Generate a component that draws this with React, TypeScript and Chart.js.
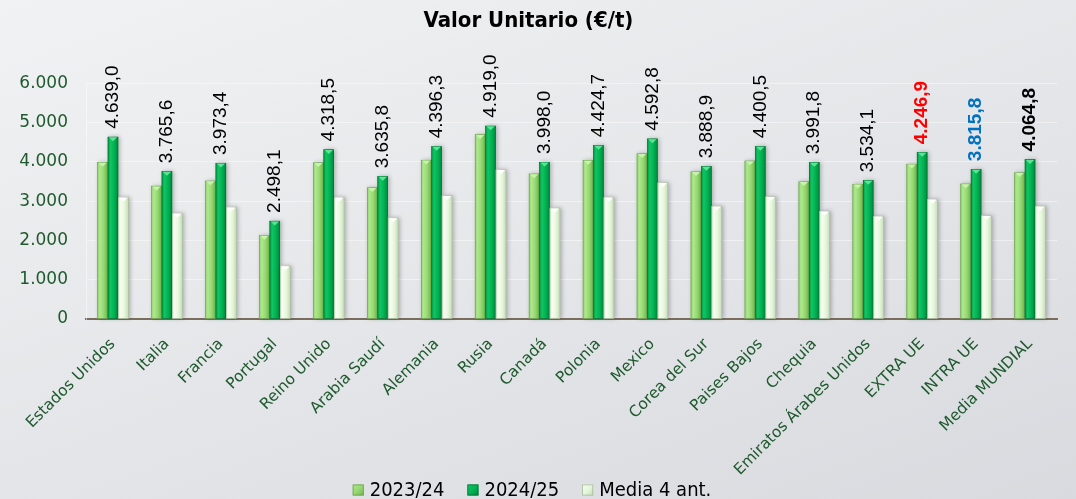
import React, { useEffect, useRef } from "react";
import { Chart, registerables } from "chart.js";

Chart.register(...registerables);

const categories = [
  "Estados Unidos", "Italia", "Francia", "Portugal", "Reino Unido", "Arabia Saudí",
  "Alemania", "Rusia", "Canadá", "Polonia", "Mexico", "Corea del Sur", "Paises Bajos",
  "Chequia", "Emiratos Árabes Unidos", "EXTRA UE", "INTRA UE", "Media MUNDIAL",
];
const seriesNames = ["2023/24", "2024/25", "Media 4 ant."];
const values2324 = [3995, 3390, 3520, 2130, 3985, 3350, 4050, 4700, 3700, 4045, 4215, 3755, 4030, 3500, 3435, 3945, 3445, 3730];
const values2425 = [4639.0, 3765.6, 3973.4, 2498.1, 4318.5, 3635.8, 4396.3, 4919.0, 3998.0, 4424.7, 4592.8, 3888.9, 4400.5, 3991.8, 3534.1, 4246.9, 3815.8, 4064.8];
const valuesMedia = [3105, 2700, 2855, 1355, 3105, 2580, 3145, 3805, 2830, 3105, 3475, 2875, 3120, 2750, 2620, 3055, 2635, 2875];
const labelColors = ["#000", "#000", "#000", "#000", "#000", "#000", "#000", "#000", "#000", "#000", "#000", "#000", "#000", "#000", "#000", "#ff0000", "#0070c0", "#000"];
const labelBold = [false, false, false, false, false, false, false, false, false, false, false, false, false, false, false, true, true, true];
const yTicks = [0, 1000, 2000, 3000, 4000, 5000, 6000];

const barStyles = [
  { mid: "#95d872", stops: ["#8fcf6c", "#aee88c", "#96d873", "#70b84b"], cap: "#c8f2ad", border: "#6a9f4e" },
  { mid: "#00b050", stops: ["#009443", "#12c462", "#00b353", "#00853b"], cap: "#5ae596", border: "#00702f" },
  { mid: "#e6f7da", stops: ["#dcefd0", "#f7fdf2", "#e6f7da", "#c5dbb9"], cap: "#ffffff", border: "#a5b99c" },
];

function fmt(v: number, dec: number): string {
  const s = v.toFixed(dec);
  const [i, d] = s.split(".");
  const ii = i.replace(/\B(?=(\d{3})+(?!\d))/g, ".");
  return d ? ii + "," + d : ii;
}

const condensed = "'Liberation Sans Narrow', 'DejaVu Sans Condensed', 'Roboto Condensed', sans-serif";

const customBars = {
  id: "customBars",
  beforeDatasetDraw() {
    return false;
  },
  afterDatasetsDraw(chart: any) {
    const ctx = chart.ctx;
    chart.data.datasets.forEach((ds: any, di: number) => {
      const meta = chart.getDatasetMeta(di);
      if (meta.hidden) return;
      const st = barStyles[di];
      meta.data.forEach((el: any) => {
        const left = el.x - el.width / 2;
        const right = el.x + el.width / 2;
        const top = el.y;
        const bottom = el.base;
        ctx.save();
        ctx.shadowColor = "rgba(0,0,0,0.28)";
        ctx.shadowBlur = 4;
        ctx.shadowOffsetX = 1.5;
        ctx.shadowOffsetY = 0;
        const g = ctx.createLinearGradient(left, 0, right, 0);
        g.addColorStop(0, st.stops[0]);
        g.addColorStop(0.25, st.stops[1]);
        g.addColorStop(0.6, st.stops[2]);
        g.addColorStop(1, st.stops[3]);
        ctx.fillStyle = g;
        ctx.fillRect(left, top, right - left, bottom - top);
        ctx.restore();
        ctx.save();
        ctx.strokeStyle = st.border;
        ctx.lineWidth = 0.6;
        ctx.strokeRect(left + 0.3, top + 0.3, right - left - 0.6, bottom - top - 0.3);
        ctx.fillStyle = st.cap;
        ctx.beginPath();
        ctx.moveTo(left + 1, top + 0.5);
        ctx.lineTo(right - 1, top + 0.5);
        ctx.lineTo(el.x, top + 4.5);
        ctx.closePath();
        ctx.fill();
        ctx.restore();
      });
    });
    // data labels on 2024/25
    const meta = chart.getDatasetMeta(1);
    meta.data.forEach((el: any, i: number) => {
      ctx.save();
      ctx.translate(el.x, el.y - 8);
      ctx.rotate(-Math.PI / 2);
      ctx.font = (labelBold[i] ? "bold " : "") + "19px 'Liberation Sans', Arial, sans-serif";
      ctx.fillStyle = labelColors[i];
      ctx.textAlign = "left";
      ctx.textBaseline = "middle";
      ctx.fillText(fmt(values2425[i], 1), 0, 0);
      ctx.restore();
    });
  },
};

const customLegend = {
  id: "customLegend",
  afterDraw(chart: any) {
    const ctx = chart.ctx;
    const box = 11;
    const gapText = 6;
    const gapItem = 23;
    const y = chart.height - 9;
    ctx.save();
    ctx.font = "20px " + condensed;
    ctx.textBaseline = "middle";
    ctx.textAlign = "left";
    const labels = chart.data.datasets.map((d: any) => d.label as string);
    const widths = labels.map((t: string) => box + gapText + ctx.measureText(t).width);
    const total = widths.reduce((a: number, b: number) => a + b, 0) + gapItem * (labels.length - 1);
    let x = chart.width / 2 - 6 - total / 2;
    labels.forEach((t: string, i: number) => {
      const st = barStyles[i];
      const bx = x;
      const by = y - box / 2;
      const g = ctx.createLinearGradient(bx, by, bx + box, by + box);
      g.addColorStop(0, st.stops[1]);
      g.addColorStop(0.5, st.stops[2]);
      g.addColorStop(1, st.stops[3]);
      ctx.fillStyle = g;
      ctx.fillRect(bx, by, box, box);
      ctx.strokeStyle = st.border;
      ctx.lineWidth = 0.8;
      ctx.strokeRect(bx + 0.4, by + 0.4, box - 0.8, box - 0.8);
      ctx.fillStyle = "#000";
      ctx.fillText(t, bx + box + gapText, y + 1);
      x += widths[i] + gapItem;
    });
    ctx.restore();
  },
};

export default function App() {
  const ref = useRef<HTMLCanvasElement | null>(null);
  useEffect(() => {
    document.body.style.margin = "0";
    if (!ref.current) return;
    const chart = new Chart(ref.current, {
      type: "bar",
      data: {
        labels: categories,
        datasets: [
          { label: seriesNames[0], data: values2324, backgroundColor: barStyles[0].mid, borderColor: barStyles[0].border, borderWidth: 1 },
          { label: seriesNames[1], data: values2425, backgroundColor: barStyles[1].mid, borderColor: barStyles[1].border, borderWidth: 1 },
          { label: seriesNames[2], data: valuesMedia, backgroundColor: barStyles[2].mid, borderColor: barStyles[2].border, borderWidth: 1 },
        ],
      },
      options: {
        responsive: false,
        animation: false,
        layout: { padding: { top: 0, left: 0, right: 19, bottom: 24 } },
        datasets: { bar: { categoryPercentage: 0.58, barPercentage: 1.0 } },
        plugins: {
          tooltip: { enabled: false },
          title: {
            display: true,
            text: "Valor Unitario (€/t)",
            color: "#000",
            font: { family: condensed, size: 22, weight: "bold" },
            padding: { top: 8, bottom: 49 },
          },
          legend: { display: false },
        },
        scales: {
          x: {
            grid: { display: false },
            border: { color: "#7b6d5e", width: 2 },
            ticks: {
              color: "#1e5a2e",
              font: { family: "'DejaVu Sans', Verdana, sans-serif", size: 15.5 },
              minRotation: 45,
              maxRotation: 45,
              autoSkip: false,
              padding: 8,
            },
            afterFit: (scale: any) => {
              scale.height = 156;
            },
          },
          y: {
            min: 0,
            max: 6000,
            afterBuildTicks: (scale: any) => {
              scale.ticks = yTicks.map((v) => ({ value: v }));
            },
            grid: { color: "rgba(255,255,255,0.45)", drawTicks: false },
            border: { color: "rgba(255,255,255,0.45)" },
            ticks: {
              color: "#1e5a2e",
              font: { family: "'DejaVu Sans', Verdana, sans-serif", size: 17 },
              padding: 18,
              callback: (v: any) => fmt(Number(v), 0),
            },
            afterFit: (scale: any) => {
              scale.width = 86;
            },
          },
        },
      },
      plugins: [customBars, customLegend],
    });
    return () => chart.destroy();
  }, []);
  return (
    <div
      style={{
        width: 1076,
        height: 499,
        position: "relative",
        overflow: "hidden",
        background: "linear-gradient(160deg, #f1f2f3 0%, #e4e5e8 55%, #d9dadf 100%)",
      }}
    >
      <canvas ref={ref} width={1076} height={499} />
    </div>
  );
}
